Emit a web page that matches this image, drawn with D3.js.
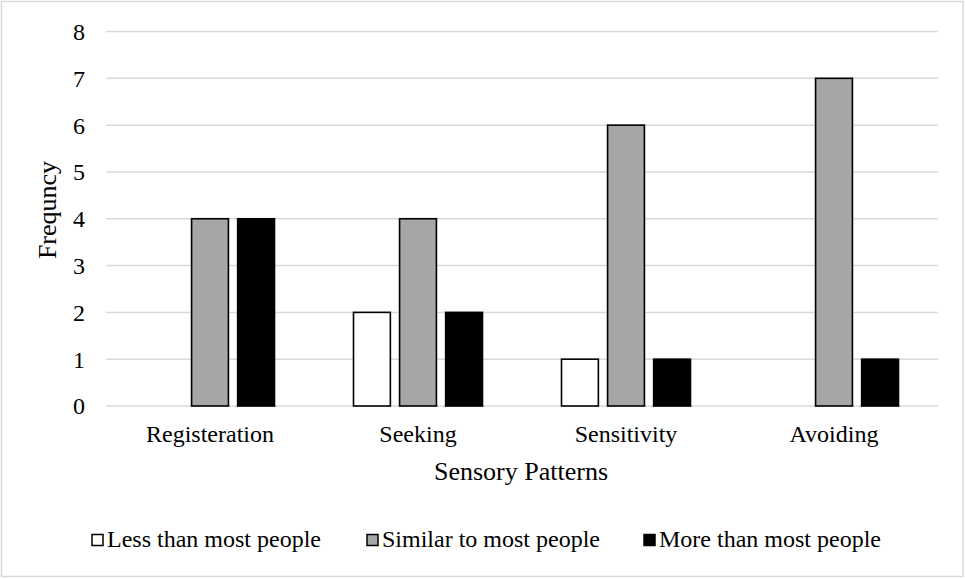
<!DOCTYPE html>
<html><head><meta charset="utf-8">
<script src="https://cdn.jsdelivr.net/npm/d3@7"></script>
<style>body{margin:0;background:#fff}svg{display:block}text{font-family:"Liberation Serif","Times New Roman",serif;fill:#000}</style>
</head><body><svg id="c" width="965" height="579"></svg>
<script>
const categories=["Registeration","Seeking","Sensitivity","Avoiding"];
const seriesNames=["Less than most people","Similar to most people","More than most people"];
const lessValues=[0,2,1,0];
const similarValues=[4,4,6,7];
const moreValues=[4,2,1,1];
const yTicks=[0,1,2,3,4,5,6,7,8];
const colors=["#ffffff","#a6a6a6","#000000"];

const FF='"Liberation Serif","Times New Roman",serif';
const svg=d3.select("#c");
svg.append("rect").attr("x",1.5).attr("y",1.5).attr("width",961.5).attr("height",575).attr("fill","#fff").attr("stroke","#d9d9d9").attr("stroke-width",1.5);
const L=106,R=938,T=31.5,B=406;
const x=d3.scaleBand().domain(categories).range([L,R]).paddingInner(0).paddingOuter(0);
const y=d3.scaleLinear().domain([0,8]).range([B,T]);
const series=[lessValues,similarValues,moreValues];
const sub=d3.scaleBand().domain([0,1,2]).range([39.5,208-39.5]).paddingInner(0.2);

const g=svg.append("g");
g.selectAll("line.grid").data(yTicks).join("line").attr("x1",L).attr("x2",R).attr("y1",d=>y(d)).attr("y2",d=>y(d)).attr("stroke","#d9d9d9").attr("stroke-width",1.5);

const yAxis=d3.axisLeft(y).tickValues(yTicks).tickSize(0).tickPadding(21);
const ya=svg.append("g").attr("transform",`translate(${L},0)`).call(yAxis);
ya.attr("font-family",FF);
ya.select(".domain").remove();
ya.selectAll("text").style("font-family",FF).style("font-size","24px").attr("dy","0.33em");

series.forEach((vals,i)=>{
  g.selectAll("rect.s"+i).data(categories.map((c,j)=>({c,v:vals[j]})).filter(d=>d.v>0)).join("rect")
   .attr("x",d=>x(d.c)+sub(i)).attr("width",sub.bandwidth())
   .attr("y",d=>y(d.v)).attr("height",d=>y(0)-y(d.v))
   .attr("fill",colors[i]).attr("stroke","#000").attr("stroke-width",1.6);
});

const xAxis=d3.axisBottom(x).tickSize(0).tickPadding(0);
const xa=svg.append("g").attr("transform",`translate(0,${B})`).call(xAxis);
xa.attr("font-family",FF);
xa.select(".domain").remove();
xa.selectAll("text").style("font-family",FF).style("font-size","24px").attr("y",36).attr("dy",null);

svg.append("text").attr("transform","translate(56,210) rotate(-90)").attr("text-anchor","middle").style("font-size","26px").text("Frequncy");
svg.append("text").attr("x",521).attr("y",480).attr("text-anchor","middle").style("font-size","26px").text("Sensory Patterns");

const legX=[92,367,644];
const lg=svg.append("g");
seriesNames.forEach((n,i)=>{
  lg.append("rect").attr("x",legX[i]).attr("y",534.5).attr("width",11).attr("height",11).attr("fill",colors[i]).attr("stroke","#000").attr("stroke-width",1.5);
  lg.append("text").attr("x",legX[i]+15).attr("y",547).style("font-size","24px").text(n);
});
</script></body></html>
